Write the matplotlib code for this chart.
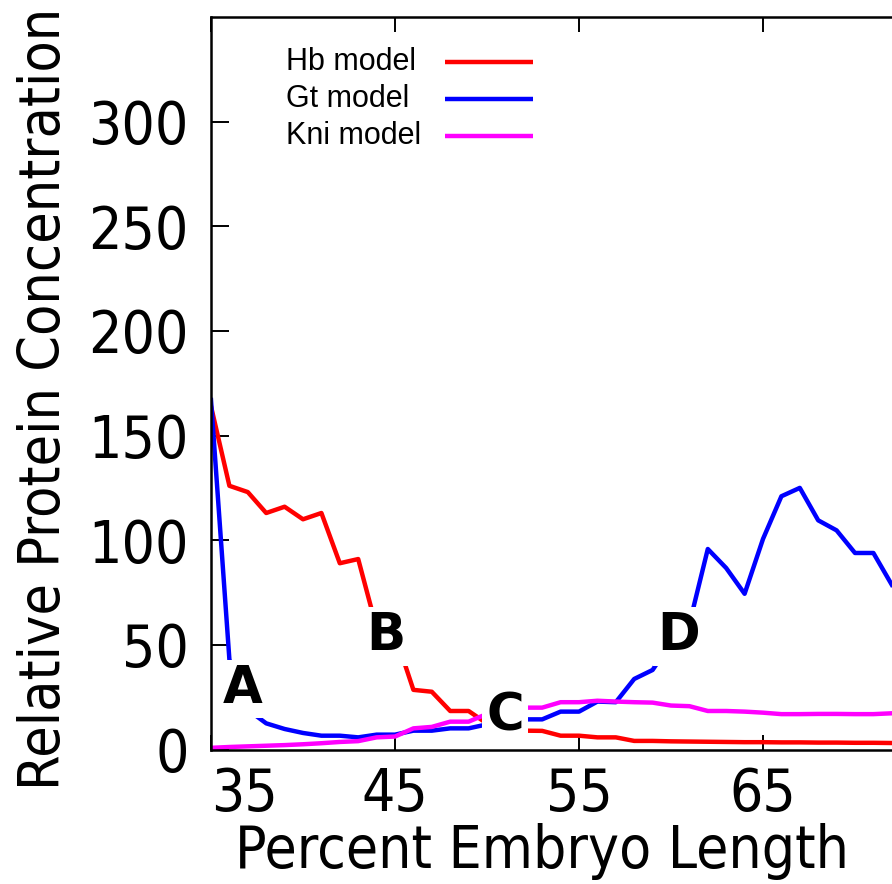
import matplotlib
matplotlib.use("Agg")
import matplotlib.pyplot as plt
from matplotlib import font_manager

# model output along the anterior-posterior axis
position = list(range(35, 73))
hb = [164, 126, 123, 113, 116, 110, 113, 89, 91, 58, 55, 28.5, 27.6, 18.4, 18.4,
      12.4, 10.5, 9.0, 8.9, 6.6, 6.6, 5.8, 5.8, 4.1, 4.1, 3.9, 3.8, 3.7, 3.6,
      3.5, 3.5, 3.4, 3.4, 3.3, 3.3, 3.2, 3.2, 3.1]
gt = [167, 43, 19, 12.5, 9.8, 7.9, 6.6, 6.6, 5.8, 7.1, 7.1, 9.0, 9.0, 10.1, 10.1,
      12.0, 13.2, 14.4, 14.4, 18.1, 18.1, 22.9, 22.6, 33.7, 38.0, 51.0, 60.0,
      95.8, 86.7, 74.4, 100.6, 121, 125, 109.5, 104.7, 93.9, 93.9, 78.7]
kni = [0.8, 1.2, 1.5, 1.8, 2.1, 2.5, 3.0, 3.6, 4.0, 5.8, 6.2, 10.1, 10.8, 13.3,
       13.3, 17.0, 18.5, 20.0, 20.0, 22.6, 22.6, 23.3, 22.9, 22.6, 22.4, 21.0,
       20.7, 18.4, 18.4, 18.1, 17.6, 16.9, 16.9, 17.0, 17.0, 16.9, 16.9, 17.3]

series = [hb, gt, kni]
names = ["Hb model", "Gt model", "Kni model"]
colors = ["#ff0000", "#0000ff", "#ff00ff"]

x_ticks = [35, 45, 55, 65]
y_ticks = [0, 50, 100, 150, 200, 250, 300]

# region markers
mark_text = ["A", "B", "C", "D"]
mark_x = [36.7, 44.5, 51.0, 60.4]
mark_y = [29, 54, 16, 54]

# narrow sans for axis text
cond = [f.fname for f in font_manager.fontManager.ttflist
        if "DejaVuSansCondensed" in f.fname and "Bold" not in f.fname
        and "Oblique" not in f.fname]
if cond:
    tick_fp = font_manager.FontProperties(fname=cond[0], size=42)
    xlabel_fp = font_manager.FontProperties(fname=cond[0], size=42)
    ylabel_fp = font_manager.FontProperties(fname=cond[0], size=41)
else:
    tick_fp = font_manager.FontProperties(family="DejaVu Sans", stretch="condensed", size=42)
    xlabel_fp = font_manager.FontProperties(family="DejaVu Sans", stretch="condensed", size=42)
    ylabel_fp = font_manager.FontProperties(family="DejaVu Sans", stretch="condensed", size=41)

W, H = 892, 884
fig = plt.figure(figsize=(W / 100, H / 100), dpi=100)
x0, x1 = 35, 75
px_per_unit = 18.4
ax_w = (x1 - x0) * px_per_unit
ax = fig.add_axes([211 / W, 134.5 / H, ax_w / W, 732.5 / H])

for ys, c in zip(series, colors):
    ax.plot(position, ys, color=c, linewidth=3.2, zorder=2)

for t, mx, my in zip(mark_text, mark_x, mark_y):
    ax.text(mx, my, t, fontsize=37, fontweight="bold", family="DejaVu Sans",
            ha="center", va="center", zorder=5,
            bbox=dict(boxstyle="square,pad=0.08", fc="white", ec="none"))

ax.set_xlim(x0, x1)
ax.set_ylim(0, 350)
ax.set_xticks(x_ticks)
ax.set_yticks(y_ticks)
ax.tick_params(axis="x", direction="in", top=True, length=11, width=1.4, pad=12)
ax.tick_params(axis="y", direction="in", right=True, length=13, width=1.4, pad=16)
for lbl in ax.get_xticklabels() + ax.get_yticklabels():
    lbl.set_fontproperties(tick_fp)
ax.get_xticklabels()[0].set_horizontalalignment("left")
for sp in ax.spines.values():
    sp.set_linewidth(1.8)

ax.set_xlabel("Percent Embryo Length", fontproperties=xlabel_fp)
ax.set_ylabel("Relative Protein Concentration", fontproperties=ylabel_fp)
ax.xaxis.set_label_coords((542 - 211) / ax_w, -0.1)
ax.yaxis.set_label_coords((72 - 211) / ax_w, 0.479)

# key: label on the left, sample line on the right
key_top, key_step = 0.9386, 0.0503
for i, (name, c) in enumerate(zip(names, colors)):
    ky = key_top - i * key_step
    ax.text(0.102, ky, name, transform=ax.transAxes, family="Liberation Sans",
            fontsize=22, ha="left", va="center")
    ax.plot([0.318, 0.4375], [ky, ky], transform=ax.transAxes, color=c,
            linewidth=3.2, solid_capstyle="butt")

fig.savefig("out.png", dpi=100)
